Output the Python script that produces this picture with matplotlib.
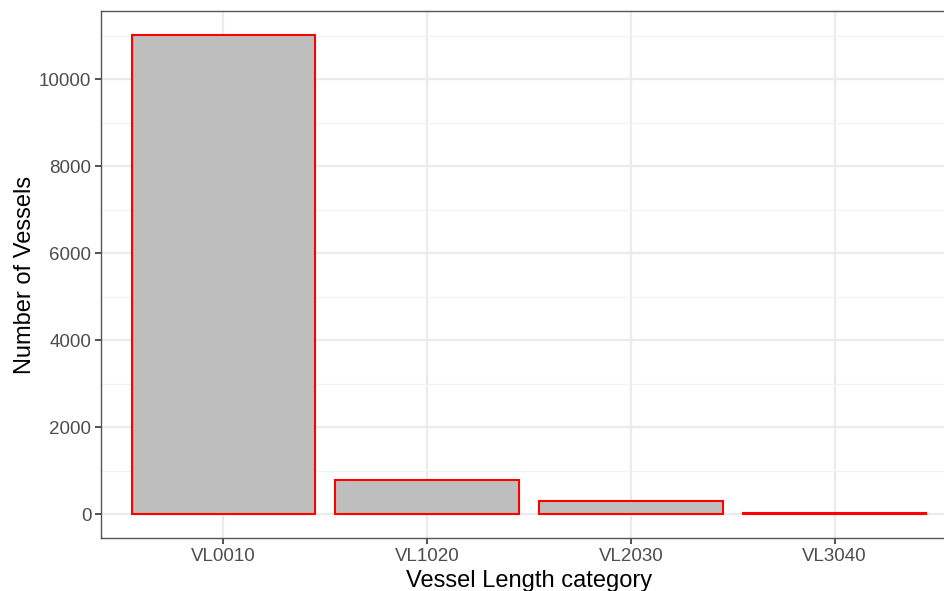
import matplotlib
import matplotlib.pyplot as plt

matplotlib.use("Agg")

# ── data ─────────────────────────────────────────────────────────────────────
categories = ["VL0010", "VL1020", "VL2030", "VL3040"]
vessel_counts = [11020, 788, 305, 22]
y_ticks = [0, 2000, 4000, 6000, 8000, 10000]
y_minor = [1000, 3000, 5000, 7000, 9000, 11000]

plt.rcParams["font.family"] = ["Liberation Sans", "DejaVu Sans"]

W, H = 945, 591
fig = plt.figure(figsize=(W / 100, H / 100), dpi=100)
# panel runs past the right edge of the picture, as in the reference
ax = fig.add_axes([101 / W, (H - 538) / H, (957 - 101) / W, (538 - 11) / H])

x = range(len(categories))
ax.bar(x, vessel_counts, width=0.9, color="#bebebe", edgecolor="#ff0000",
       linewidth=1.5, zorder=3)

ymax = max(vessel_counts)
ax.set_xlim(-0.6, len(categories) - 0.4)
ax.set_ylim(-0.05 * ymax, 1.05 * ymax)

ax.set_xticks(list(x))
ax.set_xticklabels(categories)
ax.set_yticks(y_ticks)
ax.set_yticks(y_minor, minor=True)
ax.tick_params(axis="both", which="major", labelsize=13.5, labelcolor="#4d4d4d",
               color="#333333", length=4.5, width=1.2, pad=2.5)
ax.tick_params(axis="y", which="minor", length=0)

ax.grid(True, which="major", color="#ebebeb", linewidth=1.6, zorder=0)
ax.grid(True, which="minor", axis="y", color="#f2f2f2", linewidth=0.9, zorder=0)
ax.set_axisbelow(True)

for s in ax.spines.values():
    s.set_color("#555555")
    s.set_linewidth(1.0)
ax.spines["right"].set_visible(False)

ax.set_xlabel("Vessel Length category", fontsize=17, labelpad=4)
ax.set_ylabel("Number of Vessels", fontsize=17, labelpad=2)

fig.savefig("out.png", dpi=100)
